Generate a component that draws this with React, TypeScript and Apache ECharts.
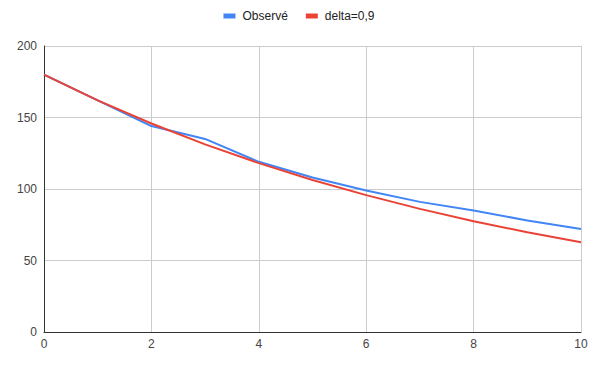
import React, { useEffect, useRef } from "react";
import * as echarts from "echarts";

const xValues = [0, 1, 2, 3, 4, 5, 6, 7, 8, 9, 10];
const observed = [180, 162, 144, 135, 119, 108, 99, 91, 85, 78, 72];
const delta09 = [180, 162, 145.8, 131.2, 118.1, 106.3, 95.7, 86.1, 77.5, 69.7, 62.8];
const seriesNames = ["Observé", "delta=0,9"];

export default function App() {
  const ref = useRef<HTMLDivElement>(null);
  useEffect(() => {
    if (!ref.current) return;
    const chart = echarts.init(ref.current, null, { renderer: "svg" });
    const font = "Arial, 'Liberation Sans', sans-serif";
    chart.setOption({
      animation: false,
      backgroundColor: "#ffffff",
      legend: {
        top: 5,
        left: "center",
        itemWidth: 12,
        itemHeight: 5,
        itemGap: 18,
        icon: "rect",
        textStyle: { fontFamily: font, fontSize: 12, color: "#222", padding: [0, 0, 0, 2] },
        data: seriesNames,
      },
      grid: { left: 44, right: 17, top: 46, bottom: 35, containLabel: false },
      xAxis: {
        type: "value",
        min: 0,
        max: 10,
        interval: 2,
        axisLine: { show: true, lineStyle: { color: "#333", width: 1 } },
        axisTick: { show: false },
        axisLabel: { fontFamily: font, fontSize: 12, color: "#444", margin: 6 },
        splitLine: { show: true, lineStyle: { color: "#cccccc", width: 1 } },
      },
      yAxis: {
        type: "value",
        min: 0,
        max: 200,
        interval: 50,
        axisLine: { show: true, lineStyle: { color: "#333", width: 1 } },
        axisTick: { show: false },
        axisLabel: { fontFamily: font, fontSize: 12, color: "#444", margin: 7 },
        splitLine: { show: true, lineStyle: { color: "#cccccc", width: 1 } },
      },
      series: [
        {
          name: seriesNames[0],
          type: "line",
          data: xValues.map((x, i) => [x, observed[i]]),
          showSymbol: false,
          lineStyle: { color: "#4285F4", width: 2 },
          itemStyle: { color: "#4285F4" },
        },
        {
          name: seriesNames[1],
          type: "line",
          data: xValues.map((x, i) => [x, delta09[i]]),
          showSymbol: false,
          lineStyle: { color: "#EA4335", width: 2 },
          itemStyle: { color: "#EA4335" },
        },
      ],
    });
    return () => chart.dispose();
  }, []);
  return (
    <div
      ref={ref}
      style={{ position: "fixed", left: 0, top: 0, width: 598, height: 367 }}
    />
  );
}
